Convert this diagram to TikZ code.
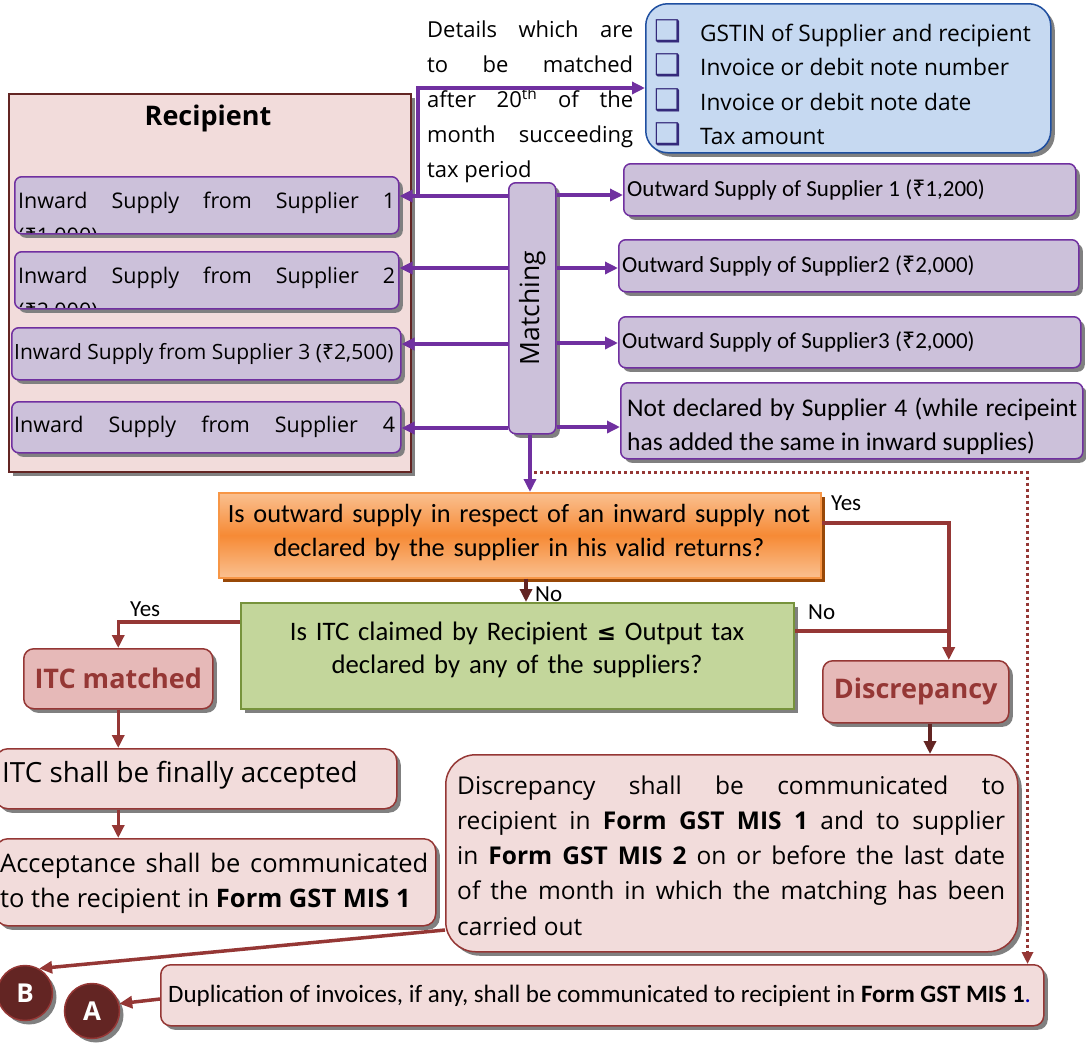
\documentclass[tikz,border=0pt]{standalone}
\usepackage{fontspec}
\setmainfont{Open Sans}
\newfontfamily\notofont{Noto Sans}
\newfontfamily\calfont{Carlito}
\newfontfamily\symfont{DejaVu Sans}
\usetikzlibrary{arrows.meta,shadows,calc}
\definecolor{pfill}{HTML}{CCC1DA}
\definecolor{pline}{HTML}{7030A0}
\definecolor{recfill}{HTML}{F2DCDB}
\definecolor{recline}{HTML}{632523}
\definecolor{redline}{HTML}{953735}
\definecolor{darkred}{HTML}{632523}
\definecolor{matchfill}{HTML}{E6B9B8}
\definecolor{gfill}{HTML}{C3D69B}
\definecolor{gline}{HTML}{77933C}
\definecolor{bfill}{HTML}{C6D9F1}
\definecolor{bline}{HTML}{1F4FA0}
\definecolor{olight}{HTML}{FAC090}
\definecolor{omid}{HTML}{F68A35}
\definecolor{oline}{HTML}{F79646}
\definecolor{oshadow}{HTML}{984807}
\definecolor{shgray}{HTML}{808080}
\definecolor{chkcol}{HTML}{34297A}
\newcommand{\fs}[2]{\fontsize{#1}{#2}\selectfont}
\newcommand{\rup}{{\notofont ₹}}
\newcommand{\chkbox}{{\symfont\bfseries\color{chkcol}\fs{30}{30}❑}}
\begin{document}
\begin{tikzpicture}[x=1pt,y=-1pt,
 sh/.style={drop shadow={shadow xshift=4pt,shadow yshift=-4pt,fill=shgray,opacity=1}},
 pbox/.style={draw=pline,fill=pfill,line width=1.5pt,rounded corners=7pt,sh,inner sep=0pt,anchor=north west},
 recbox/.style={draw=recline,fill=recfill,line width=1.5pt,sh,inner sep=0pt,anchor=north west},
 pkbox/.style={draw=redline,fill=recfill,line width=1.5pt,rounded corners=12pt,sh,inner sep=0pt,anchor=north west},
 mbox/.style={draw=redline,fill=matchfill,line width=1.5pt,rounded corners=10pt,sh,inner sep=0pt,anchor=north west,text=redline,font=\bfseries\fs{27}{32}},
 txt/.style={anchor=base west,inner sep=0pt,align=justify},
 ctxt/.style={anchor=base,inner sep=0pt,align=center,text width=640pt},
 lbl/.style={inner sep=0pt,font=\calfont\fs{23}{26}},
 parr/.style={draw=pline,line width=3.5pt,-{Triangle[length=13pt,width=12pt]}},
 rarr/.style={draw=redline,line width=3.5pt,-{Triangle[length=13pt,width=12pt]}},
 darr/.style={draw=darkred,line width=3.5pt,-{Triangle[length=13pt,width=12pt]}},
 rline/.style={draw=redline,line width=3.5pt},
 dotarr/.style={draw=redline,line width=3pt,dash pattern=on 3pt off 3pt,-{Triangle[length=12pt,width=11pt]}},
 circ/.style={circle,draw=redline,fill=darkred,line width=1.5pt,sh,text=white,font=\bfseries\fs{26}{30},inner sep=0pt,minimum size=55pt},
]
\useasboundingbox (0,0) rectangle (1086,1042);

% ---------- top text and blue box ----------
\node[txt,text width=206pt,font=\fs{22}{35}] (det) at (427,37)
 {Details which are\linebreak to be matched\linebreak after 20\textsuperscript{th} of the\linebreak month succeeding\linebreak tax period};
\node[draw=bline,fill=bfill,line width=1.5pt,rounded corners=22pt,sh,inner sep=0pt,anchor=north west,minimum width=405pt,minimum height=149pt] (blue) at (645,3) {};
\node[anchor=base west,inner sep=0pt,font=\fs{22.7}{26}] (b1) at (654,41) {\makebox[46pt][l]{\chkbox}GSTIN of Supplier and recipient};
\node[anchor=base west,inner sep=0pt,font=\fs{22.7}{26}] (b2) at (654,75) {\makebox[46pt][l]{\chkbox}Invoice or debit note number};
\node[anchor=base west,inner sep=0pt,font=\fs{22.7}{26}] (b3) at (654,110) {\makebox[46pt][l]{\chkbox}Invoice or debit note date};
\node[anchor=base west,inner sep=0pt,font=\fs{22.7}{26}] (b4) at (654,144) {\makebox[46pt][l]{\chkbox}Tax amount};

% ---------- recipient ----------
\node[recbox,minimum width=402pt,minimum height=378pt] (rec) at (8,93) {};
\node[anchor=base,inner sep=0pt,font=\bfseries\fs{27}{32}] (rect) at (208,125) {Recipient};

\node[pbox,minimum width=384pt,minimum height=57pt] (in1) at (14,176) {};
\begin{scope}
\clip[rounded corners=7pt] (15,177) rectangle (397,232);
\node[txt,text width=377pt,font=\fs{21.5}{35}] (in1t) at (18,208) {Inward Supply from Supplier 1\linebreak (\rup1,000)};
\end{scope}
\node[pbox,minimum width=384pt,minimum height=57pt] (in2) at (14,251) {};
\begin{scope}
\clip[rounded corners=7pt] (15,252) rectangle (397,307);
\node[txt,text width=377pt,font=\fs{21.5}{35}] (in2t) at (18,283) {Inward Supply from Supplier 2\linebreak (\rup2,000)};
\end{scope}
\node[pbox,minimum width=389pt,minimum height=52pt] (in3) at (11,327) {};
\node[anchor=base west,inner sep=0pt,font=\fs{21}{26}] (in3t) at (14,359) {Inward Supply from Supplier 3 (\rup2,500)};
\node[pbox,minimum width=389pt,minimum height=51pt] (in4) at (11,401) {};
\node[anchor=base west,inner sep=0pt,font=\fs{21.5}{26}] (in4t) at (14,432) {\makebox[381pt][s]{Inward Supply from Supplier 4}};

% ---------- matching ----------
\node[pbox,minimum width=47pt,minimum height=251pt] (match) at (508,182) {};
\node[rotate=90,inner sep=0pt,font=\fs{26.5}{30}] (matcht) at (match.center) {Matching};

% ---------- outward ----------
\node[pbox,minimum width=452pt,minimum height=52pt] (o1) at (623,163) {};
\node[anchor=base west,inner sep=0pt,font=\calfont\fs{23}{26}] (o1t) at (627,196) {Outward Supply of Supplier 1 (\rup1,200)};
\node[pbox,minimum width=460pt,minimum height=52pt] (o2) at (618,239) {};
\node[anchor=base west,inner sep=0pt,font=\calfont\fs{23}{26}] (o2t) at (622,272) {Outward Supply of Supplier2 (\rup2,000)};
\node[pbox,minimum width=462pt,minimum height=51pt] (o3) at (618,316) {};
\node[anchor=base west,inner sep=0pt,font=\calfont\fs{23}{26}] (o3t) at (622,348) {Outward Supply of Supplier3 (\rup2,000)};
\node[pbox,minimum width=462pt,minimum height=76pt] (o4) at (620,382) {};
\node[txt,text width=450pt,font=\calfont\fs{25.5}{34}] (o4t) at (627,416) {Not declared by Supplier 4 (while recipeint\linebreak has added the same in inward supplies)};

% ---------- purple connectors ----------
\coordinate (j1) at (418,196);
\draw[parr] (match.west |- j1) -- (in1.east |- j1);
\draw[parr] (j1) |- (blue.west |- 0,88);
\draw[parr] (match.west |- 0,268) -- (in2.east |- 0,268);
\draw[parr] (match.west |- 0,344) -- (in3.east |- 0,344);
\draw[parr] (match.west |- 0,428) -- (in4.east |- 0,428);
\draw[parr] (match.east |- 0,195) -- (o1.west |- 0,195);
\draw[parr] (match.east |- 0,268) -- (o2.west |- 0,268);
\draw[parr] (match.east |- 0,343) -- (o3.west |- 0,343);
\draw[parr] (match.east |- 0,427) -- (o4.west |- 0,427);

% ---------- decisions ----------
\node[draw=oline,line width=1.5pt,top color=olight,bottom color=olight,middle color=omid,
      drop shadow={shadow xshift=4pt,shadow yshift=-4pt,fill=oshadow,opacity=1},
      inner sep=0pt,anchor=north west,minimum width=602pt,minimum height=85pt] (orange) at (218,492) {};
\node[ctxt,font=\calfont\fs{26.3}{34}] (oranget) at (519,522) {Is outward supply in respect of an inward supply not\\declared by the supplier in his valid returns?};
\node[draw=gline,fill=gfill,line width=1.5pt,sh,inner sep=0pt,anchor=north west,minimum width=553pt,minimum height=106pt] (green) at (240,602) {};
\node[ctxt,font=\calfont\fs{26.7}{33}] (greent) at (517,640) {Is ITC claimed by Recipient {\symfont\bfseries\fs{23}{33}≤} Output tax\\declared by any of the suppliers?};
\draw[parr] (match.south -| 530,0) -- (orange.north -| 530,0);

\node[mbox,minimum width=189pt,minimum height=60pt] (itcm) at (23,648) {ITC matched};
\node[mbox,minimum width=186pt,minimum height=62pt] (disc) at (822,660) {Discrepancy};

\draw[rarr] (orange.east |- 0,523) -| ($(disc.north)+(33,0)$);
\coordinate (jn) at (948,631);
\draw[rline] (green.east |- jn) -- (jn);
\draw[darr] (orange.south -| 526,0) -- (green.north -| 526,0);
\draw[rarr] (green.west |- 0,622) -| (itcm.north);
\node[lbl,anchor=base west] (yes1) at (831,510) {Yes};
\node[lbl,anchor=base west] (no1) at (535,601) {No};
\node[lbl,anchor=base west] (no2) at (808,619) {No};
\node[lbl,anchor=base west] (yes2) at (130,616) {Yes};

% ---------- outcomes ----------
\node[pkbox,minimum width=401pt,minimum height=60pt] (acc) at (-5,748) {};
\node[anchor=base west,inner sep=0pt,font=\fs{27.8}{32}] (acct) at (2,782) {ITC shall be finally accepted};
\node[pkbox,minimum width=440pt,minimum height=87pt] (accc) at (-5,838) {};
\node[txt,text width=428pt,font=\fs{25.5}{35}] (accct) at (0,872) {Acceptance shall be communicated\linebreak to the recipient in \textbf{Form GST MIS 1}};
\node[pkbox,rounded corners=30pt,minimum width=572pt,minimum height=197pt] (comm) at (445,754) {};
\node[txt,text width=548pt,font=\fs{24.5}{35.3}] (commt) at (457,794) {Discrepancy shall be communicated to\linebreak recipient in \textbf{Form GST MIS 1} and to supplier\linebreak in \textbf{Form GST MIS 2} on or before the last date\linebreak of the month in which the matching has been\linebreak carried out};
\node[pkbox,rounded corners=10pt,minimum width=883pt,minimum height=61pt] (dup) at (160,964) {};
\node[anchor=base west,inner sep=0pt,font=\calfont\fs{25}{28}] (dupt) at (168,1002) {Duplication of invoices, if any, shall be communicated to recipient in \textbf{Form GST MIS 1}{\color{blue!70!black}.}};

\node[circ] (Bc) at (25,993) {B};
\node[circ] (Ac) at (92,1011) {A};

\draw[rarr] (itcm.south) -- (acc.north -| itcm.south);
\draw[rarr] (acc.south -| itcm.south) -- (accc.north -| itcm.south);
\draw[darr] (disc.south -| 930,0) -- (comm.north -| 930,0);
\draw[rarr] (comm.west |- 0,930) -- (Bc.60);
\draw[rarr] (dup.west |- 0,999) -- (Ac.15);
\coordinate (d0) at (534,472);
\draw[dotarr] (d0) -| ($(dup.north east)+(-17,0)$);
\end{tikzpicture}
\end{document}
